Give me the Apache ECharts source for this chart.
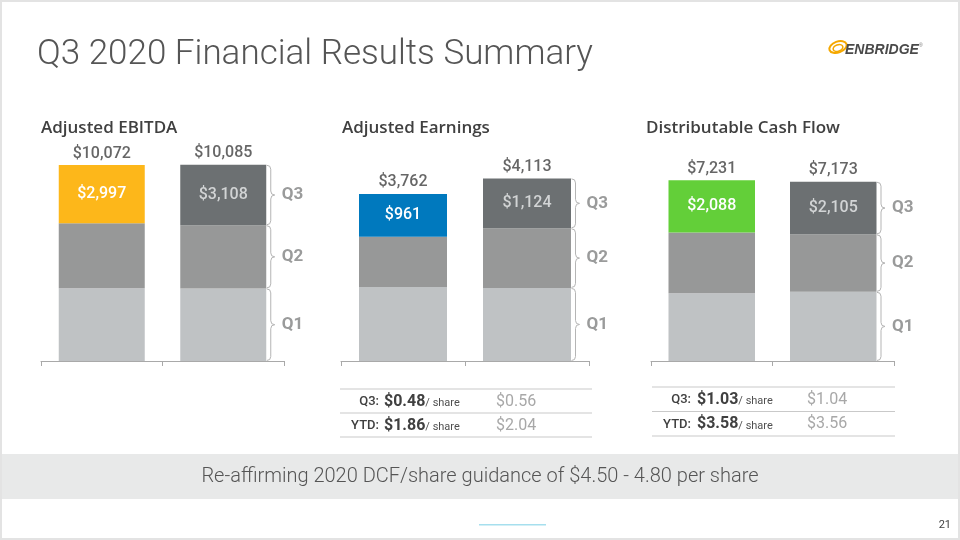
<!DOCTYPE html>
<html><head><meta charset="utf-8">
<script src="https://cdn.jsdelivr.net/npm/echarts@6.0.0/dist/echarts.min.js"></script>
<style>html,body{margin:0;padding:0;background:#fff}#c{width:960px;height:540px}</style>
</head><body><div id="c"></div>
<script>
// ---------------- data ----------------
const categories = ['2020', '2019'];
const quarterLabels = ['Q1', 'Q2', 'Q3'];
const panelTitles = ['Adjusted EBITDA', 'Adjusted Earnings', 'Distributable Cash Flow'];
const ebitdaQ1 = [3737, 3730];
const ebitdaQ2 = [3338, 3247];
const ebitdaQ3 = [2997, 3108];
const earningsQ1 = [1668, 1646];
const earningsQ2 = [1133, 1343];
const earningsQ3 = [961, 1124];
const dcfQ1 = [2713, 2769];
const dcfQ2 = [2430, 2299];
const dcfQ3 = [2088, 2105];
const earningsPerShareQ3 = ['$0.48', '$0.56'];
const earningsPerShareYTD = ['$1.86', '$2.04'];
const dcfPerShareQ3 = ['$1.03', '$1.04'];
const dcfPerShareYTD = ['$3.58', '$3.56'];
const rowLabels = ['Q3:', 'YTD:'];
const slideTitle = 'Q3 2020 Financial Results Summary';
const bannerText = 'Re-affirming 2020 DCF/share guidance of $4.50 - 4.80 per share';
const pageNumber = '21';

// ---------------- layout / style ----------------
const FONT = 'Roboto, "Liberation Sans", sans-serif';
const C_Q1 = '#bfc2c4', C_Q2 = '#979898', C_Q3 = '#6c7072';
const DARK = '#404040';
const panels = [
  {q: [ebitdaQ1, ebitdaQ2, ebitdaQ3], hl: '#fdb71a', left: 41, width: 243, top: 127.5, max: 12000, barW: 86, titleX: 41},
  {q: [earningsQ1, earningsQ2, earningsQ3], hl: '#0079be', left: 341, width: 248, top: 139, max: 5000, barW: 88, titleX: 342},
  {q: [dcfQ1, dcfQ2, dcfQ3], hl: '#63cf39', left: 651, width: 243, top: 136.1, max: 9000, barW: 86.5, titleX: 646}
];
const ZERO_Y = 361;
const fmt = v => '$' + v.toLocaleString('en-US');

const grid = [], xAxis = [], yAxis = [], series = [];
panels.forEach((p, i) => {
  grid.push({left: p.left, top: p.top, width: p.width, height: ZERO_Y - p.top});
  xAxis.push({type: 'category', gridIndex: i, data: categories,
    axisLabel: {show: false},
    axisLine: {lineStyle: {color: '#a9a9a9', width: 1}},
    axisTick: {show: true, length: 5, lineStyle: {color: '#a9a9a9'}},
    splitLine: {show: false}});
  yAxis.push({type: 'value', gridIndex: i, min: 0, max: p.max, show: false, splitLine: {show: false}});
  const colors = [C_Q1, C_Q2];
  [0, 1].forEach(k => {
    series.push({type: 'bar', name: quarterLabels[k], xAxisIndex: i, yAxisIndex: i, stack: 's' + i,
      barWidth: p.barW, data: p.q[k], itemStyle: {color: colors[k]}, silent: true});
  });
  series.push({type: 'bar', name: 'Q3', xAxisIndex: i, yAxisIndex: i, stack: 's' + i, barWidth: p.barW, silent: true,
    data: p.q[2].map((v, j) => ({
      value: v,
      itemStyle: {color: j === 0 ? p.hl : C_Q3},
      label: {color: j === 0 ? '#ffffff' : '#d2d4d5'}
    })),
    label: {show: true, position: 'inside', fontFamily: FONT, fontSize: 16, fontWeight: 500, formatter: d => fmt(d.value)}
  });
  const totals = categories.map((c, j) => p.q[0][j] + p.q[1][j] + p.q[2][j]);
  series.push({type: 'scatter', xAxisIndex: i, yAxisIndex: i, symbolSize: 1, silent: true,
    itemStyle: {color: 'rgba(0,0,0,0)'}, data: totals,
    label: {show: true, position: 'top', distance: 3, color: DARK, fontFamily: FONT, fontSize: 16, fontWeight: 500,
      formatter: d => fmt(d.value)}});
});

const chart = echarts.init(document.getElementById('c'), null, {renderer: 'canvas'});
chart.setOption({animation: false, backgroundColor: '#ffffff', grid, xAxis, yAxis, series});

// ---------------- annotations ----------------
const g = [];
g.push({type: 'rect', shape: {x: 1, y: 1, width: 958, height: 538}, style: {fill: 'none', stroke: '#e3e3e3', lineWidth: 2}, z: 100});
g.push({type: 'text', x: 37, y: 55, style: {text: slideTitle, font: '300 35px ' + FONT, fill: '#555555', verticalAlign: 'middle'}});
// logo
g.push({type: 'ellipse', shape: {cx: 838, cy: 47, rx: 9, ry: 5.5}, rotation: 0.35, originX: 838, originY: 47,
  style: {fill: 'none', stroke: '#f5a800', lineWidth: 2}});
g.push({type: 'ellipse', shape: {cx: 838, cy: 48, rx: 5, ry: 3.2}, rotation: 0.35, originX: 838, originY: 48,
  style: {fill: 'none', stroke: '#f5a800', lineWidth: 1.6}});
g.push({type: 'text', x: 845, y: 50, style: {text: 'ENBRIDGE', font: 'italic bold 14px "Liberation Sans", sans-serif', fill: '#4a4a4a', verticalAlign: 'middle'}});
g.push({type: 'text', x: 919, y: 46, style: {text: '®', font: '5px sans-serif', fill: '#777', verticalAlign: 'middle'}});

const BR = {stroke: '#b5b5b5', lineWidth: 1, fill: 'none'};
function brace(x0, a, b) {
  const ym = (a + b) / 2, xm = x0 + 4;
  g.push({type: 'bezierCurve', shape: {x1: x0, y1: a, cpx1: xm, cpy1: a, x2: xm, y2: a + 4}, style: BR});
  g.push({type: 'line', shape: {x1: xm, y1: a + 4, x2: xm, y2: ym - 4}, style: BR});
  g.push({type: 'bezierCurve', shape: {x1: xm, y1: ym - 4, cpx1: xm, cpy1: ym, x2: x0 + 8, y2: ym}, style: BR});
  g.push({type: 'bezierCurve', shape: {x1: x0 + 8, y1: ym, cpx1: xm, cpy1: ym, x2: xm, y2: ym + 4}, style: BR});
  g.push({type: 'line', shape: {x1: xm, y1: ym + 4, x2: xm, y2: b - 4}, style: BR});
  g.push({type: 'bezierCurve', shape: {x1: xm, y1: b - 4, cpx1: xm, cpy1: b, x2: x0, y2: b}, style: BR});
}

panels.forEach((p, i) => {
  g.push({type: 'text', x: p.titleX, y: 128.5, style: {text: panelTitles[i], font: '600 17px "Open Sans", ' + FONT, fill: DARK, verticalAlign: 'middle'}});
  const xc = chart.convertToPixel({xAxisIndex: i}, categories[1]);
  const x0 = xc + p.barW / 2 + 0.5;
  let cum = 0;
  for (let k = 0; k < 3; k++) {
    const yb = chart.convertToPixel({yAxisIndex: i}, cum);
    cum += p.q[k][1];
    const yt = chart.convertToPixel({yAxisIndex: i}, cum);
    const a = yt + 0.5, b = yb - 0.5;
    brace(x0, a, b);
    g.push({type: 'text', x: x0 + 15, y: (a + b) / 2, style: {text: quarterLabels[k], font: 'bold 17px ' + FONT, fill: '#9a9b9b', verticalAlign: 'middle'}});
  }
});

function table(rows, x1, x2, lineYs, labelX, valX, prevX) {
  lineYs.forEach(y => g.push({type: 'line', shape: {x1, y1: y, x2, y2: y}, style: {stroke: '#c9c9c9', lineWidth: 1}}));
  rows.forEach((r, j) => {
    const y = (lineYs[j] + lineYs[j + 1]) / 2 + 0.5;
    g.push({type: 'text', x: labelX, y, style: {text: rowLabels[j], font: '500 13px ' + FONT, fill: DARK, align: 'right', verticalAlign: 'middle'}});
    g.push({type: 'text', x: valX, y, style: {text: '{b|' + r[0] + '}{s|/ share}', verticalAlign: 'middle',
      rich: {b: {fontFamily: FONT, fontSize: 16, fontWeight: 'bold', fill: DARK, verticalAlign: 'bottom'},
             s: {fontFamily: FONT, fontSize: 11, fill: '#505050', verticalAlign: 'bottom', padding: [0, 0, 1, 0]}}}});
    g.push({type: 'text', x: prevX, y, style: {text: r[1], font: '16px ' + FONT, fill: '#a8a8a8', verticalAlign: 'middle'}});
  });
}
table([earningsPerShareQ3, earningsPerShareYTD], 340, 592, [389, 413, 437], 379, 384, 496);
table([dcfPerShareQ3, dcfPerShareYTD], 652, 895, [387, 411.5, 436], 691, 697, 807);

g.push({type: 'rect', shape: {x: 0, y: 454, width: 960, height: 45}, style: {fill: '#e8e9e9'}});
g.push({type: 'text', x: 480, y: 477, style: {text: bannerText, font: '300 20px ' + FONT, fill: '#555555', align: 'center', verticalAlign: 'middle'}});
g.push({type: 'rect', shape: {x: 479, y: 524, width: 67, height: 1.5}, style: {fill: '#a6dfee'}});
g.push({type: 'text', x: 951, y: 525, style: {text: pageNumber, font: '11px ' + FONT, fill: DARK, align: 'right', verticalAlign: 'middle'}});

chart.setOption({graphic: g});
</script></body></html>
